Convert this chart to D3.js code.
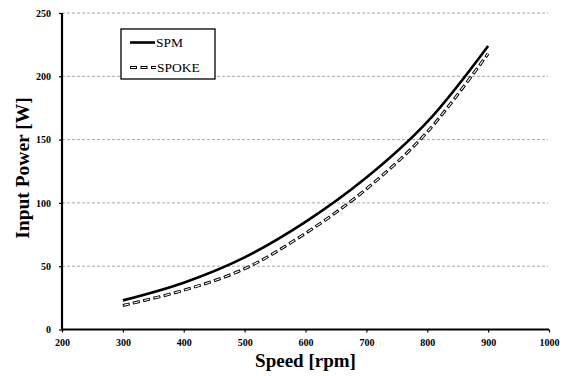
<!DOCTYPE html>
<html><head><meta charset="utf-8">
<script src="https://cdn.jsdelivr.net/npm/d3@7"></script>
<style>
html,body{margin:0;padding:0;background:#fff;}
svg{display:block;font-family:"Liberation Serif","Times New Roman",serif;}
</style></head>
<body>
<svg id="chart" width="570" height="376"></svg>
<script>
const speeds = [300, 400, 500, 600, 700, 800, 900];
const spmPower = [23, 37, 57, 85, 120, 164, 224];
const spokePower = [19, 31, 48, 76, 111, 156, 218];
const seriesNames = ["SPM", "SPOKE"];
const xTicks = [200, 300, 400, 500, 600, 700, 800, 900, 1000];
const yTicks = [0, 50, 100, 150, 200, 250];
const xTitle = "Speed [rpm]";
const yTitle = "Input Power [W]";

const svg = d3.select("#chart");
const L = 62, R = 549, T = 13, B = 329.5;
const x = d3.scaleLinear().domain([200, 1000]).range([L, R]);
const y = d3.scaleLinear().domain([0, 250]).range([B, T]);

// gridlines
svg.append("g").selectAll("line").data(yTicks.filter(d => d > 0)).join("line")
  .attr("x1", L).attr("x2", R - 1).attr("y1", d => y(d)).attr("y2", d => y(d))
  .attr("stroke", "#a6a6a6").attr("stroke-width", 1).attr("stroke-dasharray", "3,2");

// axes
const xAxis = svg.append("g").attr("transform", `translate(0,${B})`)
  .call(d3.axisBottom(x).tickValues(xTicks).tickSize(3).tickPadding(6).tickFormat(d3.format("d")));
const yAxis = svg.append("g").attr("transform", `translate(${L},0)`)
  .call(d3.axisLeft(y).tickValues(yTicks).tickSize(3).tickPadding(8).tickFormat(d3.format("d")));
[xAxis, yAxis].forEach(g => {
  g.attr("font-family", "Liberation Serif");
  g.select(".domain").attr("stroke", "#000").attr("stroke-width", 2.2);
  g.selectAll(".tick line").attr("stroke", "#000").attr("stroke-width", 1.2);
  g.selectAll(".tick text").attr("font-family", "Liberation Serif").attr("font-weight", "bold")
    .attr("font-size", 10).attr("fill", "#000");
});
xAxis.select(".domain").attr("d", `M${L},0H${R}`);
yAxis.select(".domain").attr("d", `M0,${T}V${B}`);

// titles
svg.append("text").attr("x", (L + R) / 2).attr("y", 367).attr("text-anchor", "middle")
  .attr("font-weight", "bold").attr("font-size", 19).text(xTitle);
svg.append("text").attr("transform", `translate(29,${168}) rotate(-90)`).attr("text-anchor", "middle")
  .attr("font-weight", "bold").attr("font-size", 19.5).text(yTitle);

const line = d3.line().x(d => x(d[0])).y(d => y(d[1])).curve(d3.curveCatmullRom.alpha(0.5));
const spmData = speeds.map((s, i) => [s, spmPower[i]]);
const spokeData = speeds.map((s, i) => [s, spokePower[i]]);

function drawSpoke(sel, d) {
  sel.append("path").attr("d", d).attr("fill", "none").attr("stroke", "#000")
    .attr("stroke-width", 3).attr("stroke-dasharray", "7,3.5");
  sel.append("path").attr("d", d).attr("fill", "none").attr("stroke", "#fff")
    .attr("stroke-width", 1.1).attr("stroke-dasharray", "5.2,5.3").attr("stroke-dashoffset", -0.9);
}

drawSpoke(svg.append("g"), line(spokeData));
svg.append("path").attr("d", line(spmData)).attr("fill", "none").attr("stroke", "#000")
  .attr("stroke-width", 2.6);

// legend
const lg = svg.append("g");
lg.append("rect").attr("x", 121).attr("y", 29).attr("width", 94).attr("height", 50)
  .attr("fill", "#fff").attr("stroke", "#000").attr("stroke-width", 1.3);
lg.append("line").attr("x1", 130).attr("x2", 155).attr("y1", 42.5).attr("y2", 42.5)
  .attr("stroke", "#000").attr("stroke-width", 2.6);
lg.append("text").attr("x", 156).attr("y", 47).attr("font-size", 13.5).text(seriesNames[0]);
drawSpoke(lg, "M130,67.5H156");
lg.append("text").attr("x", 157).attr("y", 72).attr("font-size", 13.5).text(seriesNames[1]);
</script>
</body></html>
